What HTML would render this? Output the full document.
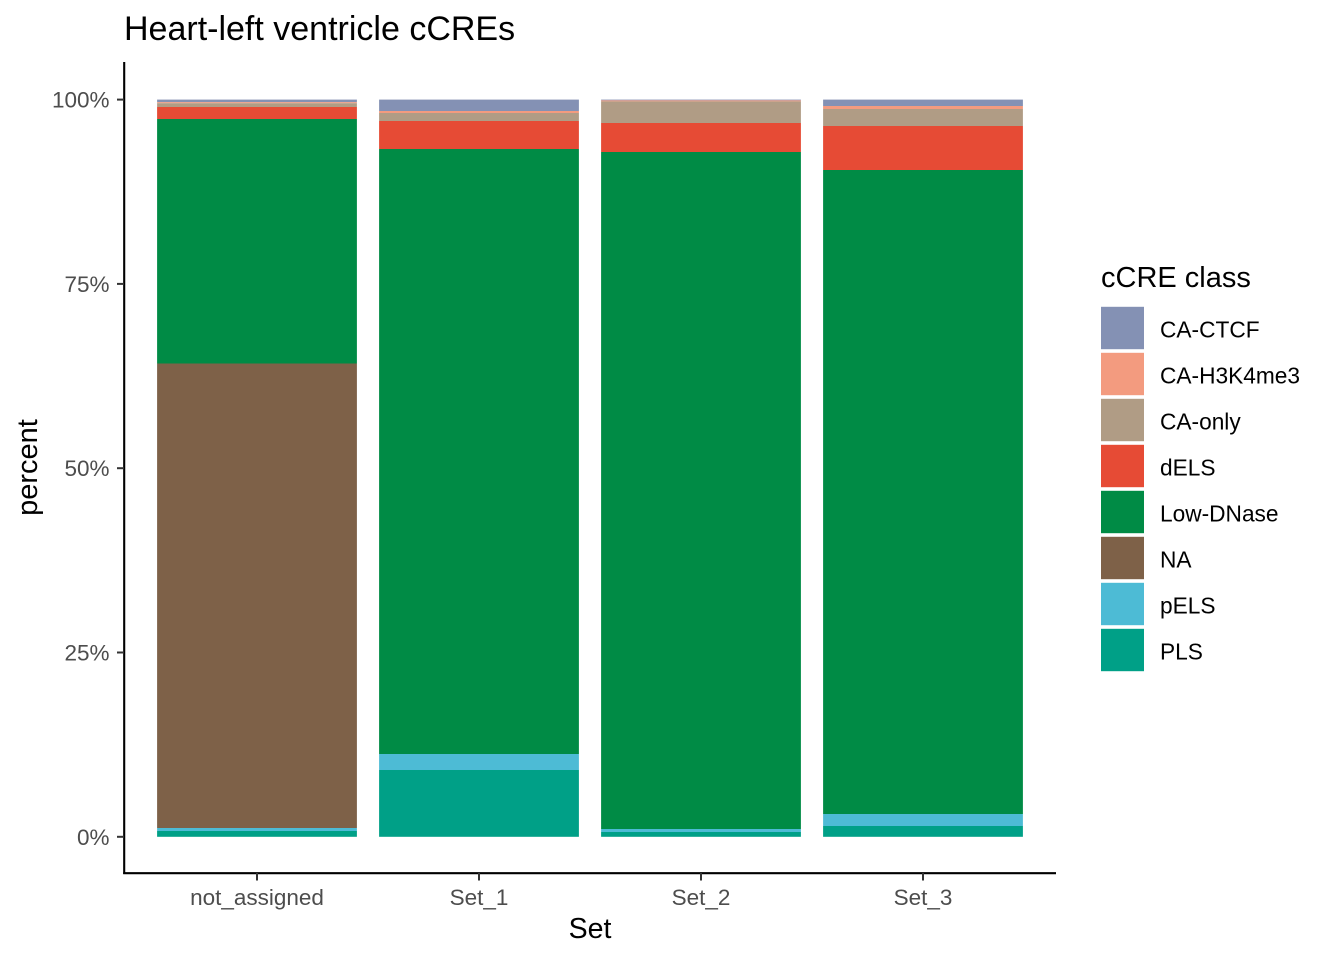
<!DOCTYPE html>
<html>
<head>
<meta charset="utf-8">
<style>
html,body{margin:0;padding:0;background:#fff;}
svg{display:block;}
text{font-family:"Liberation Sans",Arial,sans-serif;}
</style>
</head>
<body>
<svg width="1344" height="960" viewBox="0 0 1344 960" xmlns="http://www.w3.org/2000/svg">
<rect x="0" y="0" width="1344" height="960" fill="#ffffff"/>

<!-- Title -->
<text x="124" y="40" font-size="34" fill="#000">Heart-left ventricle cCREs</text>

<!-- Bars: not_assigned (x 157.1 - 356.9) -->
<g>
<rect x="157.1" y="99.6" width="199.8" height="2.6" fill="#8491B4"/>
<rect x="157.1" y="102.2" width="199.8" height="1.0" fill="#F39B7F"/>
<rect x="157.1" y="103.2" width="199.8" height="3.8" fill="#B09C85"/>
<rect x="157.1" y="107" width="199.8" height="12" fill="#E64B35"/>
<rect x="157.1" y="119" width="199.8" height="244.5" fill="#008B45"/>
<rect x="157.1" y="363.5" width="199.8" height="464.5" fill="#7E6148"/>
<rect x="157.1" y="828" width="199.8" height="3" fill="#4DBBD5"/>
<rect x="157.1" y="831" width="199.8" height="5.8" fill="#00A087"/>
</g>
<!-- Set_1 (x 379.1 - 578.9) -->
<g>
<rect x="379.1" y="99.6" width="199.8" height="11.4" fill="#8491B4"/>
<rect x="379.1" y="111" width="199.8" height="2" fill="#F39B7F"/>
<rect x="379.1" y="113" width="199.8" height="8" fill="#B09C85"/>
<rect x="379.1" y="121" width="199.8" height="28" fill="#E64B35"/>
<rect x="379.1" y="149" width="199.8" height="605" fill="#008B45"/>
<rect x="379.1" y="754" width="199.8" height="16" fill="#4DBBD5"/>
<rect x="379.1" y="770" width="199.8" height="66.8" fill="#00A087"/>
</g>
<!-- Set_2 (x 601.1 - 800.9) -->
<g>
<rect x="601.1" y="99.6" width="199.8" height="0.8" fill="#8491B4"/>
<rect x="601.1" y="100.4" width="199.8" height="1" fill="#F39B7F"/>
<rect x="601.1" y="101.4" width="199.8" height="21.6" fill="#B09C85"/>
<rect x="601.1" y="123" width="199.8" height="29" fill="#E64B35"/>
<rect x="601.1" y="152" width="199.8" height="677" fill="#008B45"/>
<rect x="601.1" y="829" width="199.8" height="3" fill="#4DBBD5"/>
<rect x="601.1" y="832" width="199.8" height="4.8" fill="#00A087"/>
</g>
<!-- Set_3 (x 823.1 - 1022.9) -->
<g>
<rect x="823.1" y="99.6" width="199.8" height="6.4" fill="#8491B4"/>
<rect x="823.1" y="106" width="199.8" height="3" fill="#F39B7F"/>
<rect x="823.1" y="109" width="199.8" height="17" fill="#B09C85"/>
<rect x="823.1" y="126" width="199.8" height="44" fill="#E64B35"/>
<rect x="823.1" y="170" width="199.8" height="644" fill="#008B45"/>
<rect x="823.1" y="814" width="199.8" height="12" fill="#4DBBD5"/>
<rect x="823.1" y="826" width="199.8" height="10.8" fill="#00A087"/>
</g>

<!-- Axes -->
<line x1="124.2" y1="62" x2="124.2" y2="874" stroke="#000" stroke-width="2.1"/>
<line x1="123.2" y1="873.2" x2="1056" y2="873.2" stroke="#000" stroke-width="2.1"/>

<!-- Y ticks -->
<g stroke="#333" stroke-width="2">
<line x1="117" y1="99.6" x2="124" y2="99.6"/>
<line x1="117" y1="283.9" x2="124" y2="283.9"/>
<line x1="117" y1="468.2" x2="124" y2="468.2"/>
<line x1="117" y1="652.5" x2="124" y2="652.5"/>
<line x1="117" y1="836.8" x2="124" y2="836.8"/>
</g>
<g font-size="22.5" fill="#4D4D4D" text-anchor="end">
<text x="109.5" y="107.6">100%</text>
<text x="109.5" y="291.9">75%</text>
<text x="109.5" y="476.2">50%</text>
<text x="109.5" y="660.5">25%</text>
<text x="109.5" y="844.8">0%</text>
</g>

<!-- X ticks -->
<g stroke="#333" stroke-width="2">
<line x1="257" y1="873" x2="257" y2="880.5"/>
<line x1="479" y1="873" x2="479" y2="880.5"/>
<line x1="701" y1="873" x2="701" y2="880.5"/>
<line x1="923" y1="873" x2="923" y2="880.5"/>
</g>
<g font-size="22.5" fill="#4D4D4D" text-anchor="middle">
<text x="257" y="905">not_assigned</text>
<text x="479" y="905">Set_1</text>
<text x="701" y="905">Set_2</text>
<text x="923" y="905">Set_3</text>
</g>

<!-- Axis titles -->
<text x="590" y="938" font-size="28.5" fill="#000" text-anchor="middle">Set</text>
<text transform="translate(37,467.5) rotate(-90)" font-size="29" fill="#000" text-anchor="middle">percent</text>

<!-- Legend -->
<text x="1101" y="287" font-size="29" fill="#000">cCRE class</text>
<g>
<rect x="1101" y="306.8" width="43" height="42.4" fill="#8491B4"/>
<rect x="1101" y="352.8" width="43" height="42.4" fill="#F39B7F"/>
<rect x="1101" y="398.8" width="43" height="42.4" fill="#B09C85"/>
<rect x="1101" y="444.8" width="43" height="42.4" fill="#E64B35"/>
<rect x="1101" y="490.8" width="43" height="42.4" fill="#008B45"/>
<rect x="1101" y="536.8" width="43" height="42.4" fill="#7E6148"/>
<rect x="1101" y="582.8" width="43" height="42.4" fill="#4DBBD5"/>
<rect x="1101" y="628.8" width="43" height="42.4" fill="#00A087"/>
</g>
<g font-size="22.7" fill="#000">
<text x="1160" y="337.5">CA-CTCF</text>
<text x="1160" y="383.5">CA-H3K4me3</text>
<text x="1160" y="429.5">CA-only</text>
<text x="1160" y="475.5">dELS</text>
<text x="1160" y="521.5">Low-DNase</text>
<text x="1160" y="567.5">NA</text>
<text x="1160" y="613.5">pELS</text>
<text x="1160" y="659.5">PLS</text>
</g>
</svg>
</body>
</html>
